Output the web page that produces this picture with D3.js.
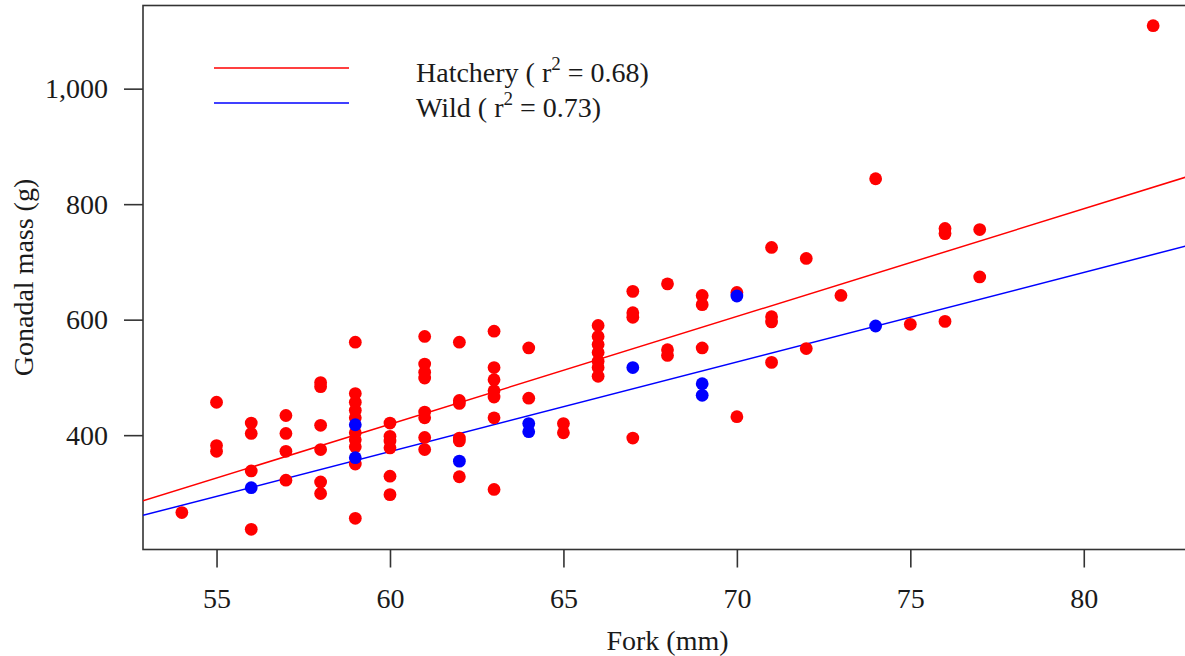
<!DOCTYPE html>
<html>
<head>
<meta charset="utf-8">
<script src="https://cdn.jsdelivr.net/npm/d3@7"></script>
<style>
  body { margin: 0; background: #fff; }
  text { font-family: "Liberation Serif", "Times New Roman", serif; fill: #1a1a1a; }
</style>
</head>
<body>
<svg id="chart" width="1185" height="656"></svg>
<script>
const forkTicks = [55, 60, 65, 70, 75, 80];
const massTicks = [400, 600, 800, 1000];

// [fork (mm), gonadal mass (g)]
const hatchery = [
  [54, 266],
  [55, 457], [55, 382], [55, 372],
  [56, 421], [56, 403], [56, 338], [56, 237],
  [57, 434], [57, 403], [57, 372], [57, 322],
  [58, 491], [58, 484], [58, 417], [58, 375], [58, 319], [58, 299],
  [59, 561], [59, 472], [59, 457], [59, 443], [59, 430], [59, 404], [59, 392], [59, 380], [59, 350], [59, 256],
  [60, 421], [60, 398], [60, 390], [60, 378], [60, 329], [60, 297],
  [61, 571], [61, 523], [61, 509], [61, 499], [61, 440], [61, 430], [61, 396], [61, 375],
  [62, 561], [62, 460], [62, 455], [62, 395], [62, 390], [62, 328],
  [63, 580], [63, 517], [63, 496], [63, 477], [63, 466], [63, 430], [63, 306],
  [64, 551], [64, 464],
  [65, 420], [65, 404],
  [66, 590], [66, 571], [66, 557], [66, 543], [66, 528], [66, 517], [66, 502],
  [67, 649], [67, 612], [67, 604], [67, 395],
  [68, 662], [68, 548], [68, 538],
  [69, 642], [69, 626], [69, 551],
  [70, 647], [70, 432],
  [71, 725], [71, 605], [71, 596], [71, 526],
  [72, 706], [72, 550],
  [73, 642],
  [74, 844],
  [75, 592],
  [76, 758], [76, 749], [76, 597],
  [77, 756], [77, 674],
  [82, 1109]
];

const wild = [
  [56, 309],
  [59, 418], [59, 361],
  [62, 355],
  [64, 420], [64, 406],
  [67, 517],
  [69, 489], [69, 469],
  [70, 641],
  [74, 589]
];

// fitted lines: mass = intercept + slope * fork
const fitNames = ["Hatchery", "Wild"];
const fitR2 = ["0.68", "0.73"];
const fitIntercept = [-700, -559];
const fitSlope = [18.65, 15.51];

const colors = ["#ff0000", "#0000ff"];

const svg = d3.select("#chart");
const plotLeft = 143, plotRight = 1192, plotTop = 5.5, plotBottom = 549.5;

const x = d3.scaleLinear().domain([52.88, 83.12]).range([plotLeft, plotRight]);
const y = d3.scaleLinear().domain([202, 1144]).range([plotBottom, plotTop]);

svg.append("defs").append("clipPath").attr("id", "plotclip")
  .append("rect")
  .attr("x", plotLeft).attr("y", plotTop)
  .attr("width", plotRight - plotLeft).attr("height", plotBottom - plotTop);

// axes
const xAxis = svg.append("g")
  .attr("transform", `translate(0,${plotBottom})`)
  .call(d3.axisBottom(x).tickValues(forkTicks).tickSize(18).tickPadding(21));
const yAxis = svg.append("g")
  .attr("transform", `translate(${plotLeft},0)`)
  .call(d3.axisLeft(y).tickValues(massTicks).tickFormat(d3.format(",")).tickSize(19).tickPadding(16));

[xAxis, yAxis].forEach(a => {
  a.select(".domain").remove();
  a.selectAll(".tick line").attr("stroke", "#333").attr("stroke-width", 1.6);
  a.selectAll(".tick text")
    .attr("font-family", "Liberation Serif")
    .attr("font-size", 28)
    .attr("fill", "#1a1a1a");
});

// plot box
svg.append("rect")
  .attr("x", plotLeft).attr("y", plotTop)
  .attr("width", plotRight - plotLeft).attr("height", plotBottom - plotTop)
  .attr("fill", "none")
  .attr("stroke", "#333")
  .attr("stroke-width", 1.6);

// axis titles
svg.append("text")
  .attr("x", (plotLeft + plotRight) / 2)
  .attr("y", 650)
  .attr("text-anchor", "middle")
  .attr("font-size", 28)
  .text("Fork (mm)");

svg.append("text")
  .attr("transform", `translate(33,${(plotTop + plotBottom) / 2}) rotate(-90)`)
  .attr("text-anchor", "middle")
  .attr("font-size", 28)
  .text("Gonadal mass (g)");

// regression lines
const plot = svg.append("g").attr("clip-path", "url(#plotclip)");
const xd = x.domain();
plot.selectAll("line.fit")
  .data(fitNames)
  .join("line")
  .attr("class", "fit")
  .attr("x1", x(xd[0]))
  .attr("x2", x(xd[1]))
  .attr("y1", (d, i) => y(fitIntercept[i] + fitSlope[i] * xd[0]))
  .attr("y2", (d, i) => y(fitIntercept[i] + fitSlope[i] * xd[1]))
  .attr("stroke", (d, i) => colors[i])
  .attr("stroke-width", 1.5);

// points
plot.selectAll("circle.hatch")
  .data(hatchery)
  .join("circle")
  .attr("class", "hatch")
  .attr("cx", d => x(d[0]))
  .attr("cy", d => y(d[1]))
  .attr("r", 6.4)
  .attr("fill", colors[0]);

plot.selectAll("circle.wild")
  .data(wild)
  .join("circle")
  .attr("class", "wild")
  .attr("cx", d => x(d[0]))
  .attr("cy", d => y(d[1]))
  .attr("r", 6.4)
  .attr("fill", colors[1]);

// legend
const legend = svg.append("g");
fitNames.forEach((name, i) => {
  const ly = 68 + i * 35;
  legend.append("line")
    .attr("x1", 214).attr("x2", 349)
    .attr("y1", ly).attr("y2", ly)
    .attr("stroke", colors[i])
    .attr("stroke-width", 1.5);
  const t = legend.append("text")
    .attr("x", 416)
    .attr("y", ly + 14)
    .attr("font-size", 28);
  t.append("tspan").text(`${name} ( r`);
  t.append("tspan").attr("dy", -12).attr("font-size", 19).text("2");
  t.append("tspan").attr("dy", 12).text(` = ${fitR2[i]})`);
});
</script>
</body>
</html>
